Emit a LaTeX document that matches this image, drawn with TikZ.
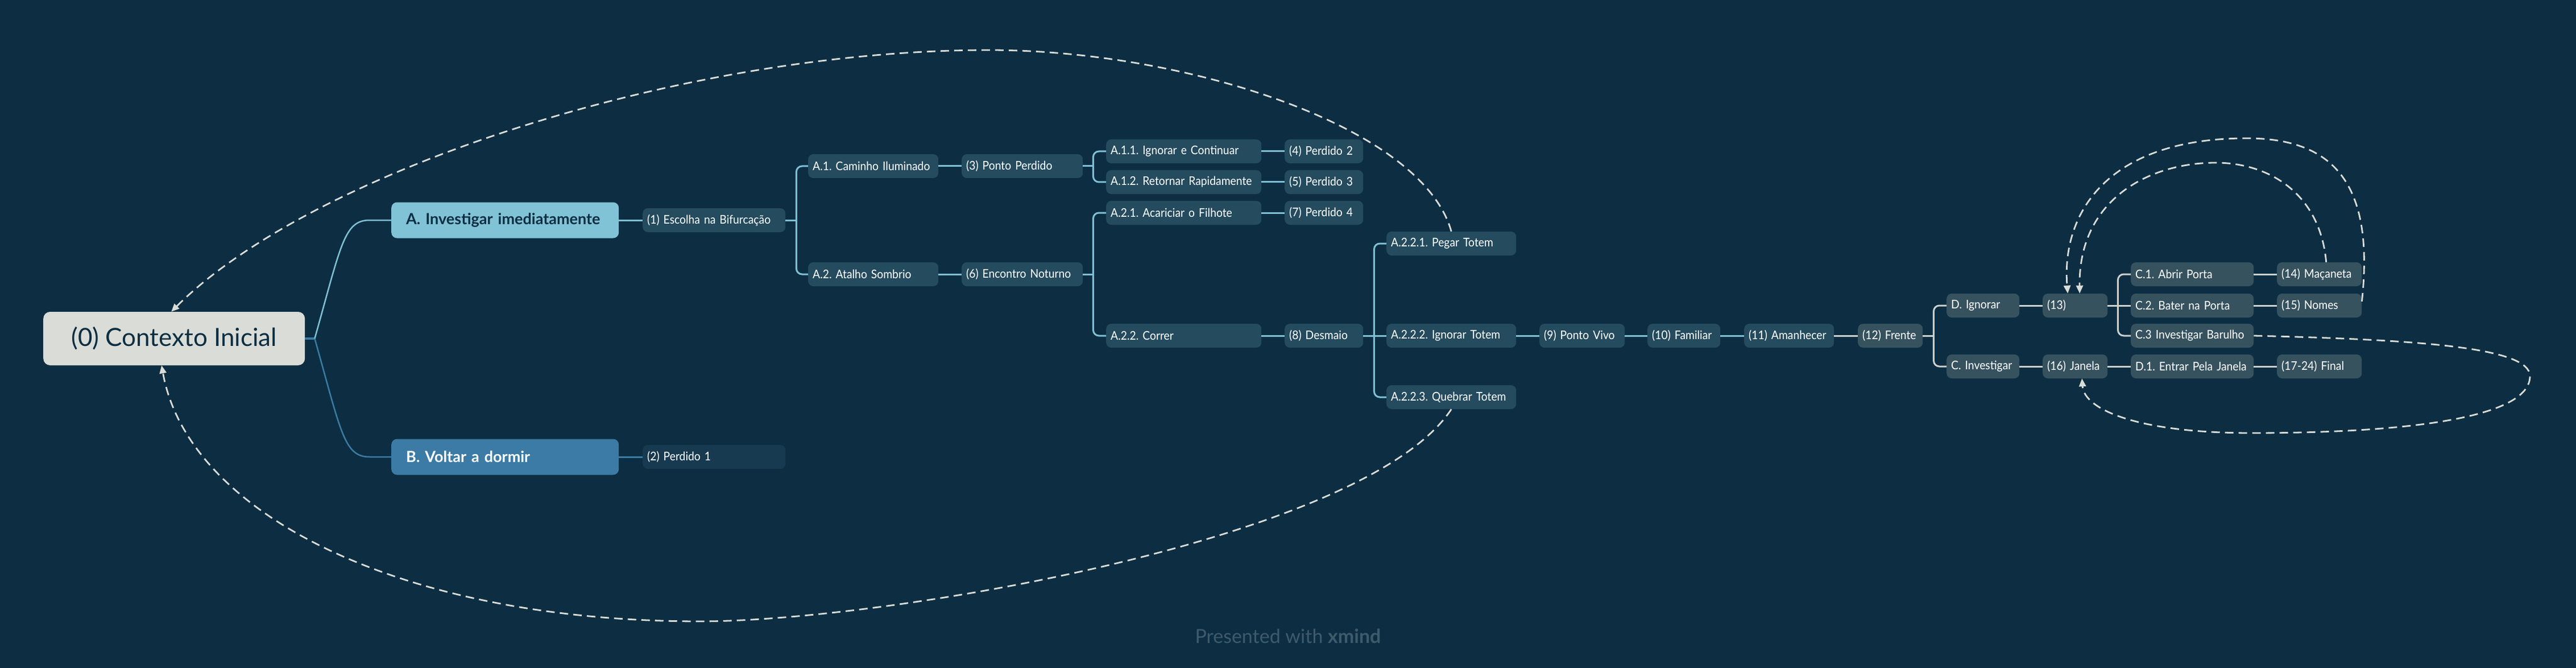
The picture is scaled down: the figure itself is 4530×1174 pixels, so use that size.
\documentclass[tikz,border=0pt]{standalone}
\usepackage{fontspec}
\setmainfont{Lato}
\newfontfamily\nodefont[FakeStretch=0.92]{Lato}
\frenchspacing
\usetikzlibrary{arrows.meta,calc}
\newcommand\oneline[1]{\mbox{#1}}
\definecolor{bg}{HTML}{0D2E42}
\definecolor{rootfill}{HTML}{D9DCD7}
\definecolor{navy}{HTML}{0D2E42}
\definecolor{afill}{HTML}{80C2D6}
\definecolor{bfill}{HTML}{3B7BA5}
\definecolor{nodeA}{HTML}{244B5E}
\definecolor{nodeD}{HTML}{173A50}
\definecolor{nodeG}{HTML}{36525F}
\definecolor{lineA}{HTML}{7FC1D6}
\definecolor{lineG}{HTML}{CDD1CE}
\definecolor{rel}{HTML}{D9DCD7}
\definecolor{foot}{HTML}{3D5B6B}
\tikzset{
  base/.style={rounded corners=9pt, anchor=west, inner xsep=8pt, inner ysep=0pt,
    minimum height=42pt, align=left, text=white, font=\nodefont\fontsize{21}{24}\selectfont},
  bluebox/.style={base, fill=nodeA},
  darkbox/.style={base, fill=nodeD},
  graybox/.style={base, fill=nodeG},
  bigbox/.style={rounded corners=10pt, anchor=west, inner xsep=26pt, inner ysep=0pt,
    minimum height=63pt, align=left, text width=348pt, font=\fontsize{27}{32}\selectfont\bfseries},
  linkA/.style={draw=lineA, line width=3pt},
  linkB/.style={draw=bfill, line width=3pt},
  linkG/.style={draw=lineG, line width=3pt},
  relline/.style={draw=rel, line width=2.8pt, dash pattern=on 15pt off 9pt,
    -{Triangle[width=12pt,length=14pt]}},
}
\begin{document}
\begin{tikzpicture}[x=1pt,y=-1pt]
\fill[bg] (0,0) rectangle (4530,1174);
\useasboundingbox (0,0) rectangle (4530,1174);

% root and main branches
\node[rounded corners=12pt, fill=rootfill, text=navy, minimum width=460pt, minimum height=94pt,
  inner sep=0pt, anchor=west, font=\fontsize{44}{52}\selectfont] (root) at (76,595) {(0) Contexto Inicial};
\node[bigbox, fill=afill, text=navy] (A) at (688,387) {A. Investigar imediatamente};
\node[bigbox, fill=bfill, text=white] (B) at (688,803) {B. Voltar a dormir};

\node[bluebox, text width=235pt] (n1) at (1130,387) {\oneline{(1) Escolha na Bifurcação}};
\node[darkbox, text width=235pt] (n2) at (1130,803) {\oneline{(2) Perdido 1}};

\node[bluebox, text width=213pt] (A1) at (1421,292) {\oneline{A.1. Caminho Iluminado}};
\node[bluebox, text width=213pt] (A2) at (1421,482) {\oneline{A.2. Atalho Sombrio}};
\node[bluebox, text width=197pt] (n3) at (1691,292) {\oneline{(3) Ponto Perdido}};
\node[bluebox, text width=197pt] (n6) at (1691,482) {\oneline{(6) Encontro Noturno}};

\node[bluebox, text width=257pt] (A11) at (1945,266) {\oneline{A.1.1. Ignorar e Continuar}};
\node[bluebox, text width=257pt] (A12) at (1945,320) {\oneline{A.1.2. Retornar Rapidamente}};
\node[bluebox, text width=257pt] (A21) at (1945,374) {\oneline{A.2.1. Acariciar o Filhote}};
\node[bluebox, text width=257pt] (A22) at (1945,590) {\oneline{A.2.2. Correr}};

\node[bluebox, text width=122pt] (n4) at (2259,266) {\oneline{(4) Perdido 2}};
\node[bluebox, text width=122pt] (n5) at (2259,320) {\oneline{(5) Perdido 3}};
\node[bluebox, text width=122pt] (n7) at (2259,374) {\oneline{(7) Perdido 4}};
\node[bluebox, text width=122pt] (n8) at (2259,590) {\oneline{(8) Desmaio}};

\node[bluebox, text width=212pt] (A221) at (2438,428) {\oneline{A.2.2.1. Pegar Totem}};
\node[bluebox, text width=212pt] (A222) at (2438,590) {\oneline{A.2.2.2. Ignorar Totem}};
\node[bluebox, text width=212pt] (A223) at (2438,698) {\oneline{A.2.2.3. Quebrar Totem}};

\node[bluebox, text width=134pt] (n9) at (2707,590) {\oneline{(9) Ponto Vivo}};
\node[bluebox, text width=112pt] (n10) at (2897,590) {\oneline{(10) Familiar}};
\node[bluebox, text width=142pt] (n11) at (3067,590) {\oneline{(11) Amanhecer}};
\node[graybox, text width=98pt] (n12) at (3267,590) {\oneline{(12) Frente}};

\node[graybox, text width=112pt] (D) at (3423,537) {\oneline{D. Ignorar}};
\node[graybox, text width=112pt] (C) at (3423,644) {\oneline{C. Investigar}};
\node[graybox, text width=98pt] (n13) at (3592,537) {\oneline{(13)}};
\node[graybox, text width=98pt] (n16) at (3592,644) {\oneline{(16) Janela}};

\node[graybox, text width=200pt] (C1) at (3747,482) {\oneline{C.1. Abrir Porta}};
\node[graybox, text width=200pt] (C2) at (3747,537) {\oneline{C.2. Bater na Porta}};
\node[graybox, text width=200pt] (C3) at (3747,590) {\oneline{C.3 Investigar Barulho}};
\node[graybox, text width=200pt] (D1) at (3747,644) {\oneline{D.1. Entrar Pela Janela}};

\node[graybox, text width=133pt] (n14) at (4004,482) {\oneline{(14) Maçaneta}};
\node[graybox, text width=133pt] (n15) at (4004,537) {\oneline{(15) Nomes}};
\node[graybox, text width=133pt] (n17) at (4004,644) {\oneline{(17-24) Final}};

% root connectors
\draw[linkB, line width=3.5pt] (root.east) -- ++(17,0) coordinate (jr);
\draw[linkA, line width=2.5pt] (jr) .. controls (600,430) and (605,387) .. (650,387) -- (A.west);
\draw[linkB, line width=2.5pt] (jr) .. controls (600,760) and (605,803) .. (650,803) -- (B.west);

% straight links
\draw[linkA] (A.east) -- (n1.west);
\draw[linkB] (B.east) -- (n2.west);
\draw[linkA] (A1.east) -- (n3.west);
\draw[linkA] (A2.east) -- (n6.west);
\draw[linkA] (A11.east) -- (n4.west);
\draw[linkA] (A12.east) -- (n5.west);
\draw[linkA] (A21.east) -- (n7.west);
\draw[linkA] (A22.east) -- (n8.west);
\draw[linkA] (n8.east) -- (A222.west);
\draw[linkA] (A222.east) -- (n9.west);
\draw[linkA] (n9.east) -- (n10.west);
\draw[linkA] (n10.east) -- (n11.west);
\draw[linkG] (n11.east) -- (n12.west);
\draw[linkG] (D.east) -- (n13.west);
\draw[linkG] (C.east) -- (n16.west);
\draw[linkG] (n13.east) -- (C2.west);
\draw[linkG] (n16.east) -- (D1.west);
\draw[linkG] (C1.east) -- (n14.west);
\draw[linkG] (C2.east) -- (n15.west);
\draw[linkG] (D1.east) -- (n17.west);

% brackets
\draw[linkA] (n1.east) -- ++(19,0) coordinate (j1);
\draw[linkA, rounded corners=10pt] (j1) |- (A1.west);
\draw[linkA, rounded corners=10pt] (j1) |- (A2.west);
\draw[linkA] (n3.east) -- ++(18,0) coordinate (j3);
\draw[linkA, rounded corners=10pt] (j3) |- (A11.west);
\draw[linkA, rounded corners=10pt] (j3) |- (A12.west);
\draw[linkA] (n6.east) -- ++(18,0) coordinate (j6);
\draw[linkA, rounded corners=10pt] (j6) |- (A21.west);
\draw[linkA, rounded corners=10pt] (j6) |- (A22.west);
\draw[linkA] (n8.east) -- ++(19,0) coordinate (j8);
\draw[linkA, rounded corners=10pt] (j8) |- (A221.west);
\draw[linkA, rounded corners=10pt] (j8) |- (A223.west);
\draw[linkG] (n12.east) -- ++(19,0) coordinate (j12);
\draw[linkG, rounded corners=10pt] (j12) |- (D.west);
\draw[linkG, rounded corners=10pt] (j12) |- (C.west);
\draw[linkG] (n13.east) -- ++(18,0) coordinate (j13);
\draw[linkG, rounded corners=10pt] (j13) |- (C1.west);
\draw[linkG, rounded corners=10pt] (j13) |- (C3.west);

% relationship arrows
\draw[relline] (A221.north) .. controls (2500,220) and (2080,88) .. (1739,88)
  .. controls (1200,88) and (550,300) .. ([xshift=-5pt]root.north);
\draw[relline] (A223.south) .. controls (2400,950) and (1550,1092) .. (1231,1092)
  .. controls (700,1092) and (330,900) .. ([xshift=-22pt]root.south);
\draw[relline] ([xshift=12pt]n14.north) .. controls (4080,340) and (3990,286) .. (3896,286)
  .. controls (3780,286) and (3655,350) .. ([xshift=8pt]n13.north);
\draw[relline] ([yshift=-14pt]n15.north east) .. controls (4175,330) and (4110,243) .. (3951,243)
  .. controls (3700,243) and (3625,380) .. ([xshift=-13pt]n13.north);
\draw[relline] (C3.east) .. controls (4250,597) and (4449,610) .. (4449,661)
  .. controls (4449,740) and (4200,761) .. (3959,761)
  .. controls (3760,761) and (3665,720) .. ([xshift=12pt]n16.south);

% footer
\node[anchor=base, text=foot, font=\fontsize{34}{40}\selectfont, inner sep=0pt] (footer) at (2265,1130)
  {Presented with \textbf{xmind}};
\end{tikzpicture}
\end{document}
